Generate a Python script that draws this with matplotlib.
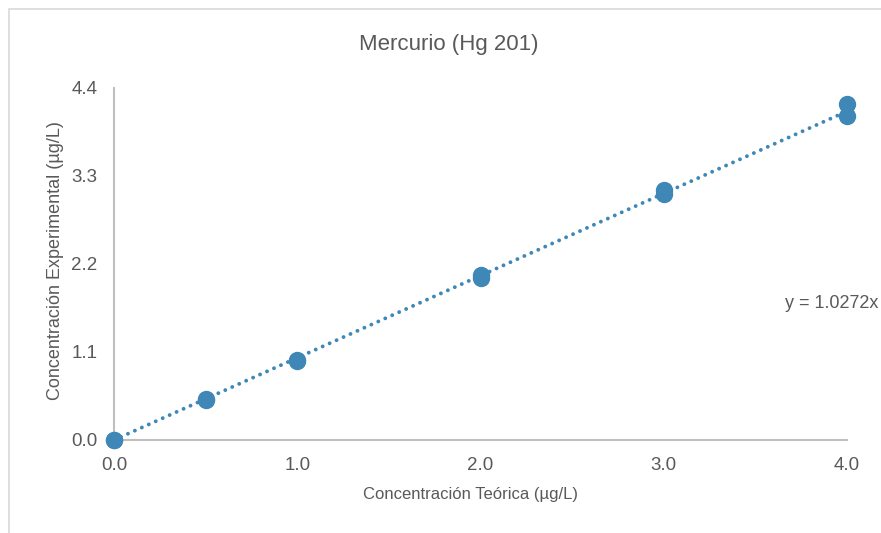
import matplotlib
matplotlib.use("Agg")
import matplotlib.pyplot as plt
from matplotlib.patches import Rectangle
import numpy as np

# lectura del gráfico
conc_teorica = [0.0, 0.0, 0.5, 0.5, 1.0, 1.0, 2.0, 2.0, 3.0, 3.0, 4.0, 4.0]
conc_experimental = [0.0, 0.0, 0.50, 0.51, 0.99, 1.00, 2.03, 2.06, 3.07, 3.12, 4.05, 4.20]
pendiente = 1.0272
xticks = [0.0, 1.0, 2.0, 3.0, 4.0]
yticks = [0.0, 1.1, 2.2, 3.3, 4.4]

plt.rcParams["font.family"] = ["Liberation Sans", "DejaVu Sans"]
azul = "#3f87b6"
gris_txt = "#595959"
gris_eje = "#bfbfbf"

W, H = 881, 533
fig = plt.figure(figsize=(W / 100, H / 100), dpi=100)
ax = fig.add_axes([114 / W, 1 - 440 / H, (847 - 114) / W, (440 - 88) / H])

# marco del área del gráfico
fig.patches.append(Rectangle((8.5 / W, -0.1), 2, 1 - 8.5 / H + 0.1, transform=fig.transFigure,
                             fill=False, edgecolor="#d9d9d9", linewidth=1.2))

xl = np.array([0.0, 4.0])
ax.plot(xl, pendiente * xl, color=azul, linewidth=2.8, linestyle=(0, (0.01, 1.95)),
        dash_capstyle="round", zorder=2)
ax.plot(conc_teorica, conc_experimental, "o", color=azul, markersize=11.5, zorder=3,
        clip_on=False)

ax.set_xlim(0, 4.0)
ax.set_ylim(0, 4.4)
ax.set_xticks(xticks)
ax.set_yticks(yticks)
ax.set_xticklabels([f"{v:.1f}" for v in xticks])
ax.set_yticklabels([f"{v:.1f}" for v in yticks])
ax.tick_params(length=0, labelsize=13.5, colors=gris_txt)
ax.tick_params(axis="x", pad=12)
ax.tick_params(axis="y", pad=12)
for s in ["top", "right"]:
    ax.spines[s].set_visible(False)
for s in ["left", "bottom"]:
    ax.spines[s].set_color(gris_eje)
    ax.spines[s].set_linewidth(1.5)

fig.text(449 / W, 1 - 45 / H, "Mercurio (Hg 201)", fontsize=16, color=gris_txt,
         ha="center", va="center")
fig.text(470 / W, 1 - 494 / H, "Concentración Teórica (µg/L)", fontsize=12, color=gris_txt,
         ha="center", va="center")
fig.text(56 / W, 1 - 261 / H, "Concentración Experimental (µg/L)", fontsize=13, color=gris_txt,
         ha="center", va="center", rotation=90)

fig.text(785 / W, 1 - 303 / H, f"y = {pendiente}x", fontsize=13, color=gris_txt, va="center")

fig.savefig("out.png", dpi=100)
